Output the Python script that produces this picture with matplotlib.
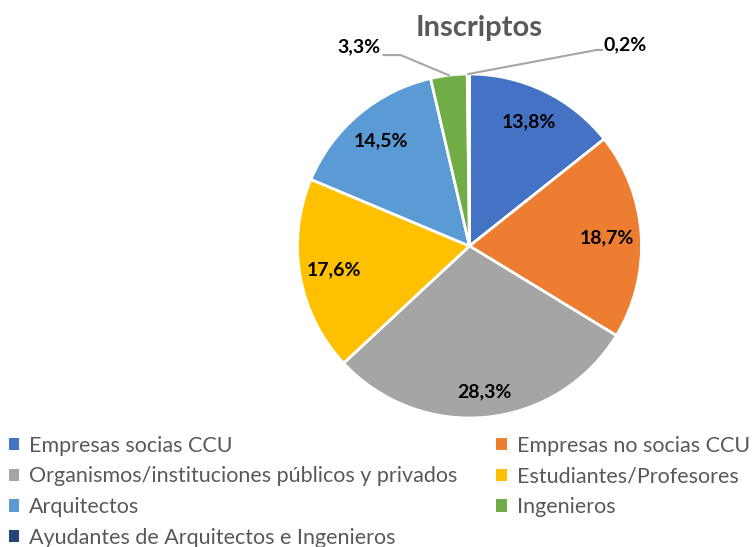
import numpy as np
import matplotlib.pyplot as plt
from matplotlib.patches import Patch

plt.rcParams['font.family'] = ['Lato', 'DejaVu Sans']

categorias = ['Empresas socias CCU', 'Empresas no socias CCU',
              'Organismos/instituciones públicos y privados', 'Estudiantes/Profesores',
              'Arquitectos', 'Ingenieros', 'Ayudantes de Arquitectos e Ingenieros']
porcentajes = [13.8, 18.7, 28.3, 17.6, 14.5, 3.3, 0.2]
colores = ['#4472C4', '#ED7D31', '#A5A5A5', '#FFC000', '#5B9BD5', '#70AD47', '#264478']

fig = plt.figure(figsize=(7.56, 5.47), dpi=100)
# pie centre ~ (469.5, 246) px, radius ~172 px
ax = fig.add_axes([297.5/756, 129/547, 344/756, 344/547])

wedges, _ = ax.pie(porcentajes, colors=colores, startangle=90, counterclock=False,
                   radius=1, wedgeprops=dict(edgecolor='white', linewidth=2))
ax.set_xlim(-1, 1)
ax.set_ylim(-1, 1)
ax.set_aspect('equal')
ax.axis('off')

def etiqueta(v):
    return ('%.1f' % v).replace('.', ',') + '%'

# etiquetas dentro de las porciones grandes
for w, v in zip(wedges, porcentajes):
    ang = np.deg2rad((w.theta1 + w.theta2) / 2)
    if v > 5:
        r = 0.80 if v < 25 else 0.85
        ax.text(r * np.cos(ang), r * np.sin(ang), etiqueta(v), ha='center', va='center',
                fontsize=14, fontweight='bold', color='black')

# etiquetas con linea guia para las porciones chicas
gris = '#A6A6A6'
w = wedges[5]
ang = np.deg2rad((w.theta1 + w.theta2) / 2)
x0, y0 = np.cos(ang), np.sin(ang)
ax.plot([x0, -0.40, -0.50], [y0, 1.11, 1.11], color=gris, lw=1.5, clip_on=False)
ax.text(-0.52, 1.157, etiqueta(porcentajes[5]), ha='right', va='center',
        fontsize=14, fontweight='bold')
w = wedges[6]
ang = np.deg2rad((w.theta1 + w.theta2) / 2)
x0, y0 = np.cos(ang), np.sin(ang)
ax.plot([x0, 0.74, 0.77], [y0, 1.14, 1.14], color=gris, lw=1.5, clip_on=False)
ax.text(0.78, 1.169, etiqueta(porcentajes[6]), ha='left', va='center',
        fontsize=14, fontweight='bold')

fig.text(479/756, 1 - 28/547, 'Inscriptos', ha='center', va='center',
         fontsize=21, fontweight='bold', color='#595959')

handles = [Patch(facecolor=c, edgecolor='none') for c in colores]
orden = [0, 2, 4, 6, 1, 3, 5]
leg = fig.legend([handles[i] for i in orden], [categorias[i] for i in orden],
                 loc='upper left', bbox_to_anchor=(0.0, 1 - 427/547), ncol=2,
                 frameon=False, fontsize=15.5, handlelength=0.5, handleheight=0.5,
                 handletextpad=0.45, columnspacing=1.8, labelspacing=0.5,
                 borderaxespad=0, borderpad=0.4)
for t in leg.get_texts():
    t.set_color('#595959')

fig.savefig('out.png', dpi=100)
